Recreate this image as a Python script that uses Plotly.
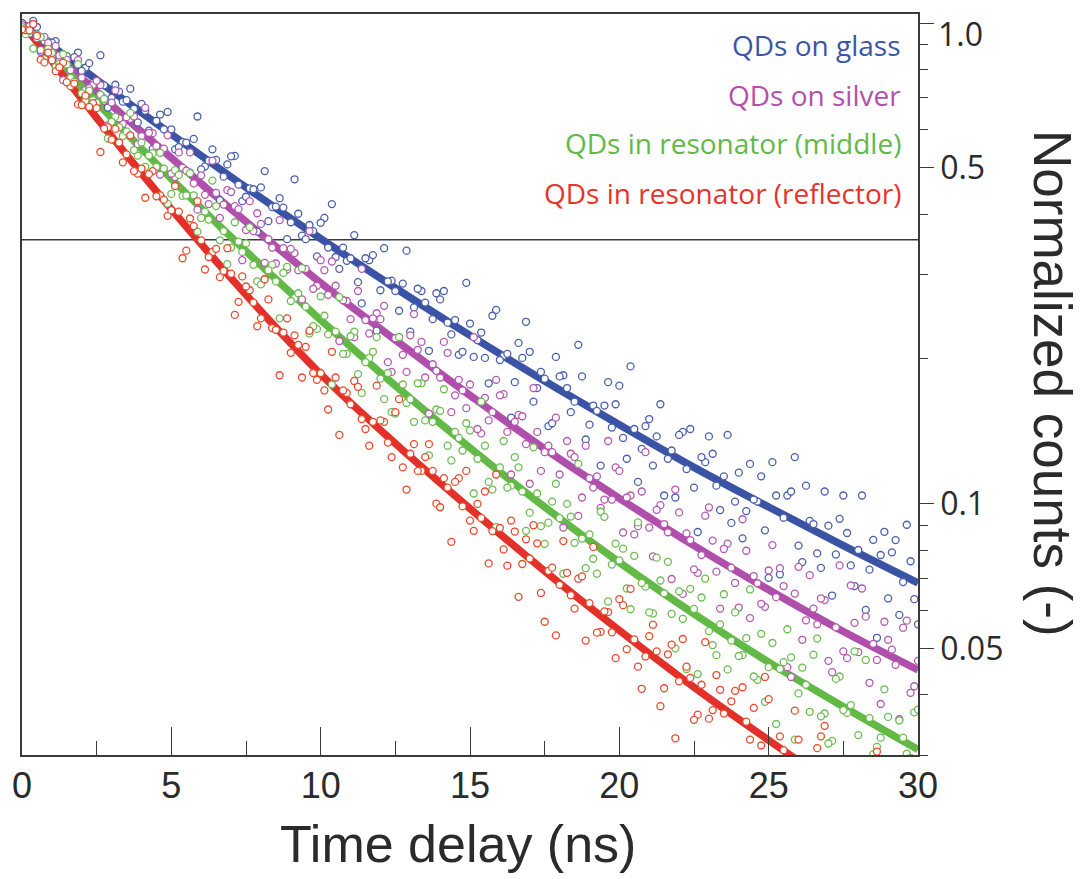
import math
import plotly.graph_objects as go

# ---------------- data ----------------
# time bins (ns): two interleaved bin sets
time_ns = [0, 0.25, 0.5, 0.75, 1, 1.25, 1.5, 1.75, 2, 2.25, 2.5,
           2.75, 3, 3.25, 3.5, 3.75, 4, 4.25, 4.5, 4.75, 5,
           5.25, 5.5, 5.75, 6, 6.25, 6.5, 6.75, 7, 7.25, 7.5,
           7.75, 8, 8.25, 8.5, 8.75, 9, 9.25, 9.5, 9.75, 10,
           10.25, 10.5, 10.75, 11, 11.25, 11.5, 11.75, 12, 12.25, 12.5,
           12.75, 13, 13.25, 13.5, 13.75, 14, 14.25, 14.5, 14.75, 15,
           15.25, 15.5, 15.75, 16, 16.25, 16.5, 16.75, 17, 17.25, 17.5,
           17.75, 18, 18.25, 18.5, 18.75, 19, 19.25, 19.5, 19.75, 20,
           20.25, 20.5, 20.75, 21, 21.25, 21.5, 21.75, 22, 22.25, 22.5,
           22.75, 23, 23.25, 23.5, 23.75, 24, 24.25, 24.5, 24.75, 25,
           25.25, 25.5, 25.75, 26, 26.25, 26.5, 26.75, 27, 27.25, 27.5,
           27.75, 28, 28.25, 28.5, 28.75, 29, 29.25, 29.5, 29.75, 30]

time_ns_mid = [0.125, 0.375, 0.625, 0.875, 1.125, 1.375, 1.625, 1.875, 2.125, 2.375,
               2.625, 2.875, 3.125, 3.375, 3.625, 3.875, 4.125, 4.375, 4.625, 4.875,
               5.125, 5.375, 5.625, 5.875, 6.125, 6.375, 6.625, 6.875, 7.125, 7.375,
               7.625, 7.875, 8.125, 8.375, 8.625, 8.875, 9.125, 9.375, 9.625, 9.875,
               10.125, 10.375, 10.625, 10.875, 11.125, 11.375, 11.625, 11.875, 12.125, 12.375,
               12.625, 12.875, 13.125, 13.375, 13.625, 13.875, 14.125, 14.375, 14.625, 14.875,
               15.125, 15.375, 15.625, 15.875, 16.125, 16.375, 16.625, 16.875, 17.125, 17.375,
               17.625, 17.875, 18.125, 18.375, 18.625, 18.875, 19.125, 19.375, 19.625, 19.875,
               20.125, 20.375, 20.625, 20.875, 21.125, 21.375, 21.625, 21.875, 22.125, 22.375,
               22.625, 22.875, 23.125, 23.375, 23.625, 23.875, 24.125, 24.375, 24.625, 24.875,
               25.125, 25.375, 25.625, 25.875, 26.125, 26.375, 26.625, 26.875, 27.125, 27.375,
               27.625, 27.875, 28.125, 28.375, 28.625, 28.875, 29.125, 29.375, 29.625, 29.875]

glass_counts = [1.00, 0.950, 0.981, 0.916, 0.910, 0.834, 0.853, 0.849, 0.795, 0.825, 0.748,
                0.742, 0.699, 0.720, 0.691, 0.663, 0.679, 0.597, 0.626, 0.601, 0.601,
                0.552, 0.564, 0.574, 0.496, 0.517, 0.519, 0.479, 0.528, 0.461, 0.435,
                0.451, 0.455, 0.387, 0.415, 0.413, 0.385, 0.401, 0.355, 0.369, 0.384,
                0.341, 0.326, 0.341, 0.324, 0.289, 0.324, 0.329, 0.278, 0.290, 0.277,
                0.287, 0.228, 0.280, 0.262, 0.242, 0.266, 0.238, 0.241, 0.207, 0.237,
                0.219, 0.201, 0.246, 0.199, 0.205, 0.179, 0.201, 0.207, 0.174, 0.182,
                0.147, 0.184, 0.174, 0.163, 0.184, 0.146, 0.156, 0.160, 0.144, 0.176,
                0.124, 0.143, 0.130, 0.150, 0.138, 0.104, 0.129, 0.139, 0.118, 0.108,
                0.125, 0.138, 0.109, 0.114, 0.0912, 0.116, 0.0965, 0.102, 0.114, 0.0701,
                0.104, 0.0935, 0.106, 0.0818, 0.109, 0.0907, 0.0735, 0.0900, 0.0784, 0.104,
                0.0744, 0.0801, 0.0601, 0.0841, 0.0782, 0.0635, 0.0840, 0.0687, 0.0759, 0.0561]
glass_counts_mid = [0.966, 1.010, 0.871, 0.916, 0.917, 0.851, 0.803, 0.868, 0.807, 0.751,
                    0.857, 0.667, 0.744, 0.686, 0.730, 0.621, 0.657, 0.547, 0.645, 0.653,
                    0.546, 0.565, 0.488, 0.639, 0.503, 0.546, 0.428, 0.508, 0.529, 0.426,
                    0.453, 0.368, 0.492, 0.414, 0.432, 0.355, 0.473, 0.361, 0.380, 0.327,
                    0.393, 0.420, 0.308, 0.320, 0.362, 0.261, 0.321, 0.229, 0.340, 0.291,
                    0.252, 0.336, 0.256, 0.277, 0.208, 0.274, 0.277, 0.225, 0.204, 0.288,
                    0.202, 0.227, 0.178, 0.253, 0.203, 0.151, 0.216, 0.239, 0.163, 0.188,
                    0.145, 0.202, 0.185, 0.155, 0.214, 0.136, 0.160, 0.120, 0.179, 0.161,
                    0.137, 0.193, 0.111, 0.145, 0.120, 0.161, 0.124, 0.103, 0.141, 0.143,
                    0.0873, 0.122, 0.127, 0.0970, 0.139, 0.101, 0.0847, 0.121, 0.101, 0.0880,
                    0.122, 0.0713, 0.104, 0.125, 0.0756, 0.0921, 0.0788, 0.106, 0.0644, 0.0930,
                    0.0869, 0.0674, 0.104, 0.0729, 0.0526, 0.0874, 0.0792, 0.0587, 0.0904, 0.0633]

silver_counts = [0.99, 0.985, 0.930, 0.936, 0.853, 0.856, 0.838, 0.758, 0.770, 0.732, 0.758,
                 0.689, 0.683, 0.633, 0.637, 0.639, 0.582, 0.591, 0.555, 0.548, 0.486,
                 0.538, 0.493, 0.464, 0.482, 0.420, 0.443, 0.419, 0.445, 0.410, 0.371,
                 0.369, 0.382, 0.355, 0.316, 0.340, 0.339, 0.306, 0.308, 0.280, 0.321,
                 0.272, 0.284, 0.265, 0.242, 0.277, 0.241, 0.243, 0.242, 0.197, 0.221,
                 0.204, 0.224, 0.209, 0.183, 0.195, 0.183, 0.206, 0.168, 0.172, 0.177,
                 0.143, 0.166, 0.155, 0.168, 0.141, 0.148, 0.152, 0.110, 0.141, 0.128,
                 0.128, 0.115, 0.135, 0.125, 0.103, 0.113, 0.114, 0.102, 0.102, 0.117,
                 0.103, 0.0863, 0.106, 0.0892, 0.0971, 0.0907, 0.0697, 0.0959, 0.0867, 0.0730,
                 0.0782, 0.0982, 0.0722, 0.0805, 0.0736, 0.0608, 0.0798, 0.0707, 0.0619, 0.0726,
                 0.0639, 0.0674, 0.0436, 0.0739, 0.0572, 0.0605, 0.0635, 0.0471, 0.0553, 0.0493,
                 0.0676, 0.0491, 0.0582, 0.0511, 0.0383, 0.0521, 0.0462, 0.0552, 0.0404, 0.0471]
silver_counts_mid = [0.964, 0.995, 0.879, 0.909, 0.896, 0.761, 0.797, 0.837, 0.726, 0.743,
                     0.743, 0.613, 0.724, 0.617, 0.632, 0.560, 0.666, 0.590, 0.484, 0.584,
                     0.478, 0.500, 0.538, 0.409, 0.439, 0.517, 0.393, 0.449, 0.416, 0.321,
                     0.426, 0.402, 0.317, 0.341, 0.389, 0.307, 0.332, 0.266, 0.369, 0.284,
                     0.306, 0.319, 0.218, 0.264, 0.222, 0.308, 0.226, 0.249, 0.258, 0.188,
                     0.222, 0.188, 0.248, 0.217, 0.154, 0.189, 0.217, 0.155, 0.181, 0.158,
                     0.222, 0.140, 0.149, 0.181, 0.169, 0.115, 0.153, 0.133, 0.174, 0.117,
                     0.132, 0.151, 0.0892, 0.127, 0.0943, 0.132, 0.108, 0.0980, 0.135, 0.119,
                     0.0871, 0.104, 0.0898, 0.128, 0.0777, 0.0993, 0.0872, 0.107, 0.0649, 0.0840,
                     0.0718, 0.0944, 0.0838, 0.0605, 0.0826, 0.0684, 0.0928, 0.0578, 0.0683, 0.0610,
                     0.0820, 0.0734, 0.0457, 0.0650, 0.0521, 0.0710, 0.0561, 0.0630, 0.0446, 0.0744,
                     0.0477, 0.0565, 0.0666, 0.0424, 0.0473, 0.0568, 0.0497, 0.0356, 0.0571, 0.0417]

middle_counts = [0.98, 0.963, 0.946, 0.841, 0.867, 0.822, 0.820, 0.755, 0.714, 0.723, 0.682,
                 0.695, 0.623, 0.607, 0.595, 0.544, 0.564, 0.530, 0.502, 0.498, 0.441,
                 0.483, 0.438, 0.438, 0.393, 0.390, 0.416, 0.369, 0.341, 0.351, 0.348,
                 0.314, 0.286, 0.306, 0.290, 0.302, 0.264, 0.274, 0.257, 0.234, 0.270,
                 0.225, 0.228, 0.205, 0.223, 0.186, 0.197, 0.207, 0.182, 0.187, 0.154,
                 0.177, 0.165, 0.178, 0.149, 0.148, 0.156, 0.132, 0.141, 0.129, 0.142,
                 0.124, 0.132, 0.107, 0.119, 0.108, 0.125, 0.106, 0.0958, 0.105, 0.0825,
                 0.101, 0.0933, 0.0999, 0.0829, 0.0846, 0.0863, 0.0715, 0.0939, 0.0747, 0.0762,
                 0.0666, 0.0779, 0.0684, 0.0594, 0.0772, 0.0651, 0.0590, 0.0657, 0.0453, 0.0604,
                 0.0638, 0.0543, 0.0484, 0.0648, 0.0519, 0.0482, 0.0525, 0.0437, 0.0536, 0.0457,
                 0.0348, 0.0468, 0.0479, 0.0403, 0.0420, 0.0485, 0.0361, 0.0317, 0.0432, 0.0372,
                 0.0381, 0.0330, 0.0473, 0.0301, 0.0326, 0.0360, 0.0269, 0.0326, 0.0296, 0.0373]
middle_counts_mid = [0.948, 0.885, 0.935, 0.883, 0.811, 0.861, 0.769, 0.821, 0.688, 0.691,
                     0.710, 0.575, 0.638, 0.582, 0.650, 0.530, 0.502, 0.536, 0.537, 0.421,
                     0.494, 0.437, 0.487, 0.368, 0.405, 0.470, 0.353, 0.315, 0.385, 0.334,
                     0.376, 0.290, 0.293, 0.314, 0.243, 0.311, 0.268, 0.309, 0.226, 0.231,
                     0.246, 0.177, 0.269, 0.205, 0.228, 0.170, 0.201, 0.222, 0.165, 0.155,
                     0.222, 0.162, 0.148, 0.178, 0.126, 0.157, 0.173, 0.123, 0.137, 0.147,
                     0.105, 0.163, 0.111, 0.0894, 0.135, 0.109, 0.119, 0.0878, 0.131, 0.0898,
                     0.0913, 0.110, 0.0715, 0.0940, 0.121, 0.0734, 0.0768, 0.0962, 0.0626, 0.0826,
                     0.0806, 0.0603, 0.0914, 0.0672, 0.0591, 0.0692, 0.0757, 0.0500, 0.0576, 0.0665,
                     0.0442, 0.0698, 0.0508, 0.0561, 0.0452, 0.0594, 0.0484, 0.0663, 0.0430, 0.0387,
                     0.0513, 0.0453, 0.0548, 0.0323, 0.0456, 0.0369, 0.0524, 0.0366, 0.0321, 0.0437,
                     0.0367, 0.0493, 0.0283, 0.0358, 0.0312, 0.0411, 0.0238, 0.0354, 0.0302, 0.0368]

reflector_counts = [0.97, 0.965, 0.940, 0.828, 0.837, 0.809, 0.753, 0.748, 0.675, 0.669, 0.665,
                    0.603, 0.572, 0.564, 0.533, 0.492, 0.498, 0.485, 0.436, 0.429, 0.408,
                    0.405, 0.336, 0.378, 0.353, 0.326, 0.339, 0.305, 0.301, 0.263, 0.283,
                    0.262, 0.243, 0.266, 0.230, 0.227, 0.206, 0.214, 0.212, 0.187, 0.187,
                    0.157, 0.183, 0.172, 0.161, 0.175, 0.143, 0.148, 0.149, 0.134, 0.155,
                    0.119, 0.127, 0.117, 0.125, 0.117, 0.0983, 0.108, 0.111, 0.0987, 0.0922,
                    0.0999, 0.106, 0.0877, 0.0890, 0.0743, 0.0875, 0.0749, 0.0769, 0.0827, 0.0568,
                    0.0736, 0.0678, 0.0718, 0.0605, 0.0706, 0.0621, 0.0539, 0.0597, 0.0540, 0.0633,
                    0.0498, 0.0522, 0.0412, 0.0530, 0.0493, 0.0413, 0.0509, 0.0427, 0.0458, 0.0355,
                    0.0420, 0.0357, 0.0440, 0.0366, 0.0388, 0.0293, 0.0352, 0.0376, 0.0314, 0.0392,
                    0.0286, 0.0307, 0.0250, 0.0323, 0.0294, 0.0265, 0.0328, 0.0186, 0.0273, 0.0248,
                    0.0276, 0.0215, 0.0242, 0.0267, 0.0180, 0.0219, 0.0233, 0.0193, 0.0268, 0.0194]
reflector_counts_mid = [0.966, 0.995, 0.839, 0.868, 0.794, 0.827, 0.739, 0.677, 0.706, 0.681,
                        0.539, 0.607, 0.602, 0.513, 0.584, 0.486, 0.433, 0.492, 0.438, 0.397,
                        0.458, 0.324, 0.392, 0.426, 0.307, 0.334, 0.296, 0.340, 0.247, 0.297,
                        0.278, 0.234, 0.293, 0.232, 0.185, 0.243, 0.224, 0.183, 0.229, 0.181,
                        0.172, 0.207, 0.139, 0.170, 0.180, 0.150, 0.132, 0.176, 0.148, 0.125,
                        0.165, 0.107, 0.133, 0.117, 0.133, 0.100, 0.113, 0.0833, 0.113, 0.117,
                        0.0878, 0.0934, 0.0751, 0.115, 0.0803, 0.0922, 0.0640, 0.0843, 0.0902, 0.0652,
                        0.0725, 0.0532, 0.0836, 0.0645, 0.0698, 0.0519, 0.0813, 0.0541, 0.0595, 0.0477,
                        0.0615, 0.0665, 0.0458, 0.0481, 0.0560, 0.0379, 0.0486, 0.0325, 0.0523, 0.0434,
                        0.0364, 0.0515, 0.0372, 0.0410, 0.0292, 0.0408, 0.0415, 0.0323, 0.0289, 0.0436,
                        0.0287, 0.0328, 0.0249, 0.0371, 0.0289, 0.0207, 0.0310, 0.0345, 0.0226, 0.0264,
                        0.0199, 0.0287, 0.0259, 0.0213, 0.0305, 0.0185, 0.0221, 0.0160, 0.0252, 0.0224]

fit_time = [0, 2.5, 5, 7.5, 10, 12.5, 15, 17.5, 20, 22.5, 25, 27.5, 30]
glass_fit = [1.0, 0.762, 0.587, 0.455, 0.356, 0.281, 0.224, 0.180, 0.146, 0.119, 0.0984, 0.0818, 0.0684]
silver_fit = [1.0, 0.719, 0.524, 0.386, 0.288, 0.219, 0.168, 0.130, 0.1026, 0.0818, 0.0662, 0.0542, 0.0451]
middle_fit = [1.0, 0.684, 0.474, 0.335, 0.241, 0.176, 0.1306, 0.0984, 0.0755, 0.059, 0.0468, 0.0378, 0.0308]
reflector_fit = [1.0, 0.635, 0.410, 0.272, 0.186, 0.1334, 0.0977, 0.0724, 0.0545, 0.0415, 0.0322, 0.0252, 0.0200]

series_names = ["QDs on glass", "QDs on silver",
                "QDs in resonator (middle)", "QDs in resonator (reflector)"]
reference_level = 0.354          # horizontal reference line
x_major_ticks = [0, 5, 10, 15, 20, 25, 30]
x_minor_ticks = [2.5, 7.5, 12.5, 17.5, 22.5, 27.5]
x_tick_labels = ["0", "5", "10", "15", "20", "25", "30"]
y_major_ticks = [0.05, 0.1, 0.5, 1.0]
y_tick_labels = ["0.05", "0.1", "0.5", "1.0"]
y_minor_ticks = [0.03, 0.04, 0.06, 0.07, 0.08, 0.09, 0.2, 0.3, 0.4, 0.6, 0.7, 0.8, 0.9]

# ---------------- styling ----------------
line_colors = ["#3a53a4", "#b04fab", "#62b946", "#e4302a"]
marker_colors = ["#4a5fae", "#b657b1", "#6bbd50", "#e9492d"]
label_colors = ["#3b55a5", "#b350ad", "#62b946", "#e8322a"]
axis_color = "#3a3a3a"
text_color = "#2b2b2b"

# The page body has an 8 px margin, so the figure is drawn 8 px in from the
# window's top-left corner; positions below are window pixels minus that offset.
PAGE_OFFSET = 8
W, H = 1087 - PAGE_OFFSET, 879 - PAGE_OFFSET
L, R, T, B = 22 - PAGE_OFFSET, 918 - PAGE_OFFSET, 14 - PAGE_OFFSET, 755 - PAGE_OFFSET

fig = go.Figure()

counts = [glass_counts, silver_counts, middle_counts, reflector_counts]
counts_mid = [glass_counts_mid, silver_counts_mid, middle_counts_mid, reflector_counts_mid]
fits = [glass_fit, silver_fit, middle_fit, reflector_fit]

fig.add_trace(go.Scatter(x=[x_major_ticks[0], x_major_ticks[-1]],
                         y=[reference_level, reference_level], mode="lines",
                         line=dict(color=axis_color, width=1.5), hoverinfo="skip"))

for k in range(4):
    fig.add_trace(go.Scatter(x=fit_time, y=fits[k], mode="lines",
                             line=dict(color=line_colors[k], width=7.5, shape="spline"),
                             name=series_names[k] + " fit"))
for k in range(4):
    fig.add_trace(go.Scatter(x=time_ns_mid + time_ns, y=counts_mid[k] + counts[k], mode="markers",
                             marker=dict(symbol="circle", size=7, color="white",
                                         line=dict(color=marker_colors[k], width=1.3)),
                             name=series_names[k]))


def px_x(p):
    # window pixel -> paper fraction
    return (p - PAGE_OFFSET - L) / (R - L)


def px_y(p):
    return (B - (p - PAGE_OFFSET)) / (B - T)


annotations = []
legend_y = [45, 95, 143, 193]
for k in range(4):
    annotations.append(dict(text=series_names[k], xref="paper", yref="paper",
                            x=px_x(903), y=px_y(legend_y[k]), xanchor="right", yanchor="middle",
                            showarrow=False,
                            font=dict(family="Open Sans", size=28, color=label_colors[k])))
annotations.append(dict(text="Time delay (ns)", xref="paper", yref="paper",
                        x=px_x(458), y=px_y(844), xanchor="center", yanchor="middle",
                        showarrow=False,
                        font=dict(family="Liberation Sans, Arial", size=52, color=text_color)))
annotations.append(dict(text="Normalized counts (-)", xref="paper", yref="paper",
                        x=px_x(1053), y=px_y(383), xanchor="center", yanchor="middle",
                        textangle=90, showarrow=False,
                        font=dict(family="Liberation Sans, Arial", size=53, color=text_color)))
# top tick label ("1.0") sits a little below its tick in the reference
annotations.append(dict(text=y_tick_labels[-1], xref="paper", yref="paper",
                        x=px_x(936), y=px_y(33), xanchor="left", yanchor="middle",
                        showarrow=False,
                        font=dict(family="Open Sans", size=32, color=text_color)))
axis_tick_text = y_tick_labels[:-1] + [""]

top_log = (23 - 14) / 480.7
fig.update_layout(
    width=W, height=H,
    margin=dict(l=L, r=W - R, t=T, b=H - B, pad=0, autoexpand=False),
    paper_bgcolor="white", plot_bgcolor="white",
    showlegend=False,
    annotations=annotations,
)
fig.update_xaxes(
    range=[0, 30], showgrid=False, zeroline=False, automargin=False,
    showline=True, linecolor=axis_color, linewidth=1.5, mirror=True,
    tickmode="array", tickvals=x_major_ticks, ticktext=x_tick_labels,
    ticks="inside", ticklen=28, tickwidth=1.3, tickcolor=axis_color,
    minor=dict(tickmode="array", tickvals=x_minor_ticks, ticks="inside",
               ticklen=14, tickwidth=1.3, tickcolor=axis_color, showgrid=False),
    tickfont=dict(family="Liberation Sans, Arial", size=36, color=text_color),
    ticklabelstandoff=-2,
)
fig.update_yaxes(
    type="log", range=[math.log10(0.03), top_log], side="right",
    showgrid=False, zeroline=False, automargin=False,
    showline=True, linecolor=axis_color, linewidth=1.5, mirror=True,
    tickmode="array", tickvals=y_major_ticks, ticktext=axis_tick_text,
    ticks="outside", ticklen=14, tickwidth=1.3, tickcolor=axis_color,
    minor=dict(tickmode="array", tickvals=y_minor_ticks, ticks="outside",
               ticklen=8, tickwidth=1.3, tickcolor=axis_color, showgrid=False),
    tickfont=dict(family="Open Sans", size=32, color=text_color),
    ticklabelstandoff=0,
)

fig.write_html("out.html")
